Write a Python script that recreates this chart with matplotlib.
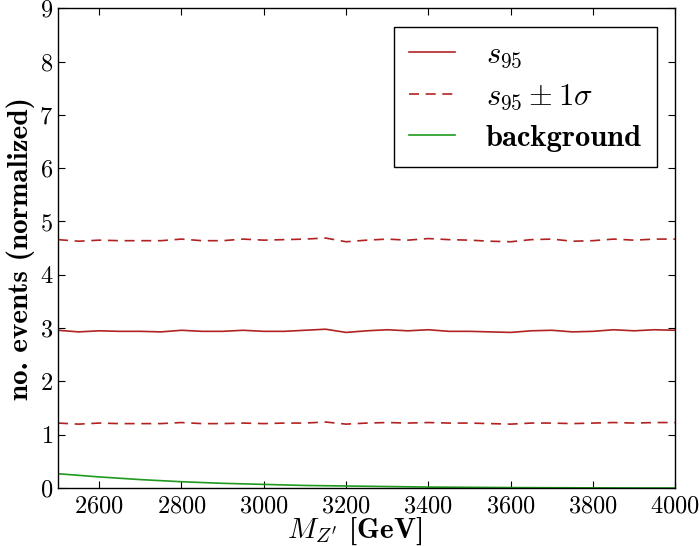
import numpy as np
import matplotlib
matplotlib.use('Agg')
import matplotlib.pyplot as plt

plt.rcParams['font.family'] = 'cmr10'
plt.rcParams['mathtext.fontset'] = 'cm'
plt.rcParams['axes.formatter.use_mathtext'] = True
plt.rcParams['font.size'] = 14
plt.rcParams['xtick.direction'] = 'in'
plt.rcParams['ytick.direction'] = 'in'
plt.rcParams['xtick.top'] = True
plt.rcParams['ytick.right'] = True

# data
mass = [2500, 2550, 2600, 2650, 2700, 2750, 2800, 2850, 2900, 2950, 3000,
        3050, 3100, 3150, 3200, 3250, 3300, 3350, 3400, 3450, 3500,
        3550, 3600, 3650, 3700, 3750, 3800, 3850, 3900, 3950, 4000]
s95 = [2.96, 2.93, 2.95, 2.94, 2.94, 2.93, 2.96, 2.94, 2.94, 2.96, 2.94,
       2.94, 2.96, 2.98, 2.92, 2.95, 2.97, 2.95, 2.97, 2.94, 2.94,
       2.93, 2.92, 2.95, 2.96, 2.93, 2.94, 2.97, 2.95, 2.97, 2.96]
s95_up = [4.66, 4.63, 4.65, 4.64, 4.64, 4.64, 4.67, 4.64, 4.64, 4.67, 4.65,
          4.66, 4.67, 4.69, 4.62, 4.65, 4.67, 4.65, 4.68, 4.66, 4.65,
          4.63, 4.62, 4.66, 4.67, 4.63, 4.64, 4.67, 4.65, 4.67, 4.67]
s95_down = [1.22, 1.20, 1.22, 1.21, 1.21, 1.21, 1.23, 1.21, 1.21, 1.22, 1.21,
            1.22, 1.22, 1.24, 1.20, 1.22, 1.23, 1.22, 1.23, 1.22, 1.22,
            1.21, 1.20, 1.22, 1.22, 1.21, 1.22, 1.23, 1.22, 1.23, 1.23]
bkg_mass = [2500, 2600, 2700, 2800, 2900, 3000, 3100, 3200, 3300, 3400,
            3500, 3600, 3700, 3800, 3900, 4000]
bkg = [0.27, 0.21, 0.16, 0.12, 0.09, 0.07, 0.05, 0.04, 0.03, 0.02,
       0.015, 0.01, 0.007, 0.005, 0.003, 0.002]

red = '#b22222'
green = '#1f9a1f'

fig = plt.figure(figsize=(6.99, 5.46), dpi=100)
ax = fig.add_axes([0.083, 0.106, 0.883, 0.879])

ax.plot(mass, s95, color=red, lw=1.2, label=r'$s_{95}$')
ax.plot(mass, s95_up, color=red, lw=1.2, dashes=(6, 4), label=r'$s_{95} \pm 1\sigma$')
ax.plot(mass, s95_down, color=red, lw=1.2, dashes=(6, 4))
ax.plot(bkg_mass, bkg, color=green, lw=1.2, label='background')

ax.set_xlim(2500, 4000)
ax.set_ylim(0, 9)
ax.set_xticks([2600, 2800, 3000, 3200, 3400, 3600, 3800, 4000])
ax.set_yticks(range(10))
ax.tick_params(length=5, width=0.8, labelsize=17.5)
ax.tick_params(axis='x', pad=5)
ax.tick_params(axis='y', pad=3.5)
for sp in ax.spines.values():
    sp.set_linewidth(1.0)

ax.set_xlabel(r"$M_{Z'}$ [GeV]", fontfamily='cmb10', fontsize=21)
ax.xaxis.set_label_coords(0.48, -0.058)
ax.set_ylabel('no. events (normalized)', fontfamily='cmb10', fontsize=21, labelpad=3)

leg = ax.legend(loc='upper right', prop={'family': 'cmb10', 'size': 22},
                fancybox=False, framealpha=1, edgecolor='black',
                handlelength=1.5, borderaxespad=0.6, labelspacing=0.4,
                handletextpad=1.0, borderpad=0.5)
leg.get_frame().set_linewidth(1.0)

fig.savefig('out.png', dpi=100)
